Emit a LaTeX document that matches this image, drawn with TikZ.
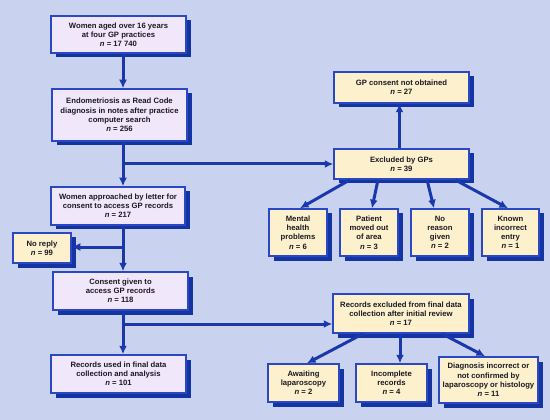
\documentclass[tikz,border=0pt]{standalone}
\usepackage{fontspec}
\setmainfont{Liberation Sans}
\usetikzlibrary{arrows.meta,shadows}
\definecolor{bgblue}{HTML}{C9D3EF}
\definecolor{lav}{HTML}{F0E7FB}
\definecolor{beige}{HTML}{FDF0CD}
\definecolor{edgeblue}{HTML}{2A48C4}
\definecolor{shadblue}{HTML}{1434A2}
\definecolor{lineblue}{HTML}{1A38AC}
\definecolor{txt}{HTML}{1A1A22}
\tikzset{
  box/.style={draw=edgeblue, line width=1.5pt, align=center, inner sep=1pt,
    text=txt, font=\fontsize{7.7}{9.2}\selectfont\bfseries,
    drop shadow={shadow xshift=4.5pt, shadow yshift=-4.5pt, fill=shadblue, opacity=1}},
  lbox/.style={box, fill=lav},
  ybox/.style={box, fill=beige},
  conn/.style={draw=lineblue, line width=3pt},
  arr/.style={conn, -{Latex[length=8.5pt,width=8pt]}},
}
\newcommand{\nn}[1]{\textit{n} = #1}
\begin{document}
\begin{tikzpicture}[x=1pt,y=-1pt]
\useasboundingbox (0,0) rectangle (550,420);
\fill[bgblue] (0,0) rectangle (550,420);
% left column
\node[lbox, minimum width=135pt, minimum height=37pt] (b1) at (118.5,34.5)
  {Women aged over 16 years\\at four GP practices\\\nn{17 740}};
\node[lbox, minimum width=135pt, minimum height=52pt] (b2) at (119.5,115)
  {Endometriosis as Read Code\\diagnosis in notes after practice\\computer search\\\nn{256}};
\node[lbox, minimum width=134pt, minimum height=38pt] (b3) at (118,206)
  {Women approached by letter for\\consent to access GP records\\\nn{217}};
\node[ybox, minimum width=58pt, minimum height=30pt] (noreply) at (42,248)
  {No reply\\\nn{99}};
\node[lbox, minimum width=135pt, minimum height=38pt] (consent) at (120.5,291)
  {Consent given to\\access GP records\\\nn{118}};
\node[lbox, minimum width=135pt, minimum height=38pt] (used) at (118.5,374)
  {Records used in final data\\collection and analysis\\\nn{101}};
% right upper
\node[ybox, minimum width=135pt, minimum height=31pt] (gpc) at (401.5,87.5)
  {GP consent not obtained\\\nn{27}};
\node[ybox, minimum width=135pt, minimum height=30pt] (excl) at (401.5,164)
  {Excluded by GPs\\\nn{39}};
\node[ybox, minimum width=58pt, minimum height=47pt] (mental) at (298,232.5)
  {Mental\\health\\problems\\\nn{6}};
\node[ybox, minimum width=58pt, minimum height=47pt] (patient) at (369,232.5)
  {Patient\\moved out\\of area\\\nn{3}};
\node[ybox, minimum width=58pt, minimum height=47pt] (noreason) at (440,232.5)
  {No\\reason\\given\\\nn{2}};
\node[ybox, minimum width=57pt, minimum height=47pt] (known) at (510.5,232.5)
  {Known\\incorrect\\entry\\\nn{1}};
% right lower
\node[ybox, minimum width=136pt, minimum height=39pt] (recex) at (401,313.5)
  {Records excluded from final data\\collection after initial review\\\nn{17}};
\node[ybox, minimum width=71pt, minimum height=38pt] (await) at (303.5,383)
  {Awaiting\\laparoscopy\\\nn{2}};
\node[ybox, minimum width=71pt, minimum height=38pt] (incompl) at (391.5,383)
  {Incomplete\\records\\\nn{4}};
\node[ybox, minimum width=99pt, minimum height=46pt] (diag) at (488.5,380)
  {Diagnosis incorrect or\\not confirmed by\\laparoscopy or histology\\\nn{11}};
% trunk
\coordinate (t) at (123,0);
\coordinate (j1) at (123,164);
\coordinate (j0) at (123,247);
\coordinate (j2) at (123,324);
\draw[arr] (b1.south -| t) -- (b2.north -| t);
\draw[arr] (b2.south -| t) -- (b3.north -| t);
\draw[arr] (j1) -- (j1 -| excl.west);
\draw[arr] (b3.south -| t) -- (consent.north -| t);
\draw[arr] (j0) -- (j0 -| noreply.east);
\draw[arr] (consent.south -| t) -- (used.north -| t);
\draw[arr] (j2) -- (j2 -| recex.west);
% excluded by GPs
\draw[arr] ([xshift=-2pt]excl.north) -- ([xshift=-2pt]gpc.south);
\draw[arr] ([xshift=-51.5pt]excl.south) -- ([xshift=2pt]mental.north);
\draw[arr] ([xshift=-23.5pt]excl.south) -- ([xshift=3pt]patient.north);
\draw[arr] ([xshift=25.5pt]excl.south) -- ([xshift=-6pt]noreason.north);
\draw[arr] ([xshift=53.5pt]excl.south) -- ([xshift=-2.5pt]known.north);
% records excluded
\draw[arr] ([xshift=-38pt]recex.south) -- ([xshift=3.5pt]await.north);
\draw[arr] ([xshift=-1pt]recex.south) -- ([xshift=8.5pt]incompl.north);
\draw[arr] ([xshift=41pt]recex.south) -- ([xshift=-3.5pt]diag.north);
\end{tikzpicture}
\end{document}
